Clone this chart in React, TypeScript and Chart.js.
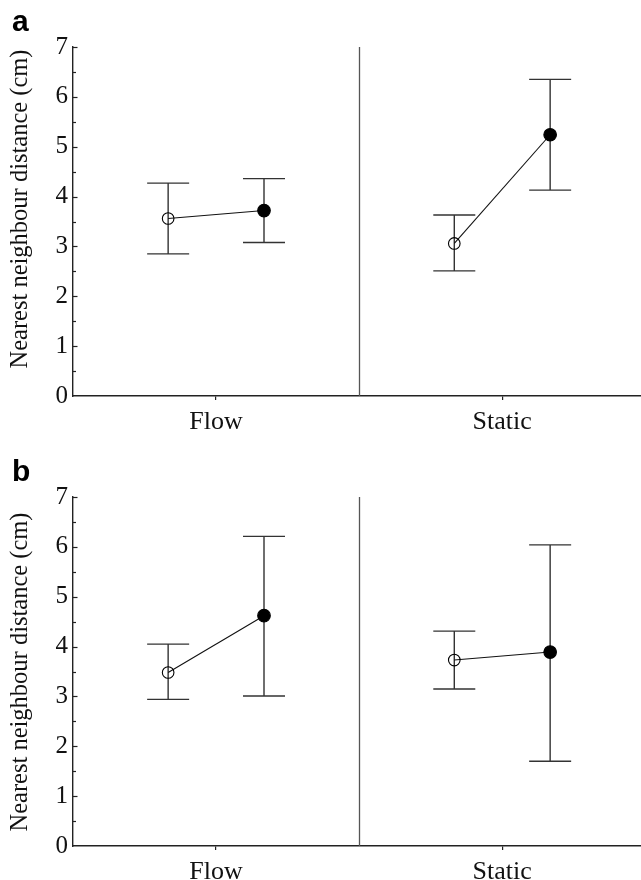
import React, { useEffect, useRef } from 'react';
import { Chart, registerables } from 'chart.js';

Chart.register(...registerables);

// ---------- data ----------
const categories = ['Flow', 'Static'];
const yTickValues = [0, 1, 2, 3, 4, 5, 6, 7];
const yAxisTitle = 'Nearest neighbour distance (cm)';

// Panel a
const aOpenMean = [3.56, 3.06];
const aOpenLow = [2.85, 2.51];
const aOpenHigh = [4.27, 3.63];
const aFilledMean = [3.72, 5.24];
const aFilledLow = [3.08, 4.13];
const aFilledHigh = [4.36, 6.35];

// Panel b
const bOpenMean = [3.48, 3.73];
const bOpenLow = [2.94, 3.15];
const bOpenHigh = [4.05, 4.31];
const bFilledMean = [4.62, 3.89];
const bFilledLow = [3.01, 1.7];
const bFilledHigh = [6.21, 6.04];

// ---------- styles ----------
const SERIF = '"Liberation Serif", "Times New Roman", serif';
const SANS = '"Liberation Sans", Arial, sans-serif';
const PAIR_OFFSET = 0.335;
const CAP_HALF = 21;

type PanelProps = {
  label: string;
  openMean: number[];
  openLow: number[];
  openHigh: number[];
  filledMean: number[];
  filledLow: number[];
  filledHigh: number[];
  titleCenterY: number;
  top: number;
};

function Panel(props: PanelProps) {
  const ref = useRef<HTMLCanvasElement | null>(null);

  useEffect(() => {
    const canvas = ref.current;
    if (!canvas) return;
    const { label, openMean, openLow, openHigh, filledMean, filledLow, filledHigh, titleCenterY } = props;

    const catPos = (i: number) => i * 2 + 1;

    const datasets = categories.map((_, i) => ({
      data: [
        { x: catPos(i) - PAIR_OFFSET, y: openMean[i] },
        { x: catPos(i) + PAIR_OFFSET, y: filledMean[i] },
      ],
      borderColor: '#111',
      borderWidth: 1.1,
      pointRadius: [5.8, 6.3],
      pointBorderWidth: 1.1,
      pointBorderColor: '#000',
      pointBackgroundColor: ['rgba(0,0,0,0)', '#000'],
      pointHoverRadius: 0,
      fill: false,
      tension: 0,
    }));

    const errors = categories.map((_, i) => [
      { x: catPos(i) - PAIR_OFFSET, lo: openLow[i], hi: openHigh[i] },
      { x: catPos(i) + PAIR_OFFSET, lo: filledLow[i], hi: filledHigh[i] },
    ]);

    const decor = {
      id: 'decor',
      beforeDatasetsDraw(chart: any) {
        const ctx = chart.ctx;
        const xs = chart.scales.x;
        const ys = chart.scales.y;
        ctx.save();
        // divider between categories
        ctx.strokeStyle = '#555';
        ctx.lineWidth = 1.3;
        const dx = Math.round(xs.getPixelForValue(2)) + 0.5;
        ctx.beginPath();
        ctx.moveTo(dx, ys.getPixelForValue(0));
        ctx.lineTo(dx, ys.getPixelForValue(7));
        ctx.stroke();
        // error bars
        ctx.strokeStyle = '#333';
        ctx.lineWidth = 1.4;
        errors.flat().forEach((e) => {
          const px = xs.getPixelForValue(e.x);
          const pLo = ys.getPixelForValue(e.lo);
          const pHi = ys.getPixelForValue(e.hi);
          ctx.beginPath();
          ctx.moveTo(px, pLo);
          ctx.lineTo(px, pHi);
          ctx.moveTo(px - CAP_HALF, pLo);
          ctx.lineTo(px + CAP_HALF, pLo);
          ctx.moveTo(px - CAP_HALF, pHi);
          ctx.lineTo(px + CAP_HALF, pHi);
          ctx.stroke();
        });
        // inward y ticks (major + minor)
        ctx.strokeStyle = '#222';
        ctx.lineWidth = 1.2;
        const left = chart.chartArea.left;
        for (let v = 0; v <= 7; v += 0.5) {
          if (v === 0) continue;
          const py = Math.round(ys.getPixelForValue(v)) + 0.5;
          const len = Number.isInteger(v) ? 4.5 : 3;
          ctx.beginPath();
          ctx.moveTo(left, py);
          ctx.lineTo(left + len, py);
          ctx.stroke();
        }
        ctx.restore();
      },
      afterDraw(chart: any) {
        const ctx = chart.ctx;
        ctx.save();
        // y-axis title
        ctx.translate(20.5, titleCenterY);
        ctx.rotate(-Math.PI / 2);
        ctx.fillStyle = '#111';
        ctx.font = `24.5px ${SERIF}`;
        ctx.textAlign = 'center';
        ctx.textBaseline = 'middle';
        ctx.fillText(yAxisTitle, 0, 0);
        ctx.restore();
        // panel label
        ctx.save();
        ctx.fillStyle = '#000';
        ctx.font = `bold 30px ${SANS}`;
        ctx.textAlign = 'left';
        ctx.textBaseline = 'alphabetic';
        ctx.fillText(label, 12, 31);
        ctx.restore();
      },
    };

    const chart = new Chart(canvas, {
      type: 'line',
      data: { datasets: datasets as any },
      options: {
        animation: false,
        responsive: false,
        devicePixelRatio: 1,
        layout: { autoPadding: false, padding: { top: 47, left: 0, right: 0, bottom: 0 } },
        plugins: {
          legend: { display: false },
          tooltip: { enabled: false },
          title: { display: false },
        },
        events: [],
        scales: {
          x: {
            type: 'linear',
            min: 0,
            max: 3.97,
            afterBuildTicks: (scale: any) => {
              scale.ticks = categories.map((_, i) => ({ value: catPos(i) }));
            },
            afterFit: (scale: any) => {
              scale.height = 44;
              scale.paddingLeft = 0;
              scale.paddingRight = 0;
            },
            ticks: {
              callback: (value: any) => categories[Math.round((Number(value) - 1) / 2)] ?? '',
              font: { family: SERIF, size: 26 },
              color: '#111',
              padding: 7,
              autoSkip: false,
              maxRotation: 0,
            },
            grid: {
              display: true,
              drawOnChartArea: false,
              drawTicks: true,
              tickLength: 4,
              color: '#222',
              lineWidth: 1.2,
            },
            border: { display: true, color: '#222', width: 1.4 },
          },
          y: {
            type: 'linear',
            min: 0,
            max: 7,
            afterBuildTicks: (scale: any) => {
              scale.ticks = yTickValues.map((v) => ({ value: v }));
            },
            afterFit: (scale: any) => {
              scale.width = 73;
              scale.paddingTop = 0;
              scale.paddingBottom = 0;
            },
            ticks: {
              font: { family: SERIF, size: 25 },
              color: '#111',
              padding: 5,
              callback: (value: any) => String(value),
            },
            grid: { display: false, drawTicks: false },
            border: { display: true, color: '#222', width: 1.4 },
          },
        },
      },
      plugins: [decor],
    });

    return () => chart.destroy();
  }, []);

  return (
    <canvas
      ref={ref}
      width={641}
      height={440}
      style={{ position: 'absolute', left: 0, top: props.top, width: 641, height: 440, display: 'block' }}
    />
  );
}

export default function App() {
  return (
    <div
      style={{
        position: 'absolute',
        left: 0,
        top: 0,
        width: 641,
        height: 880,
        overflow: 'hidden',
        background: '#fff',
      }}
    >
      <Panel
        label="a"
        openMean={aOpenMean}
        openLow={aOpenLow}
        openHigh={aOpenHigh}
        filledMean={aFilledMean}
        filledLow={aFilledLow}
        filledHigh={aFilledHigh}
        titleCenterY={209}
        top={0}
      />
      <Panel
        label="b"
        openMean={bOpenMean}
        openLow={bOpenLow}
        openHigh={bOpenHigh}
        filledMean={bFilledMean}
        filledLow={bFilledLow}
        filledHigh={bFilledHigh}
        titleCenterY={222}
        top={450}
      />
    </div>
  );
}
